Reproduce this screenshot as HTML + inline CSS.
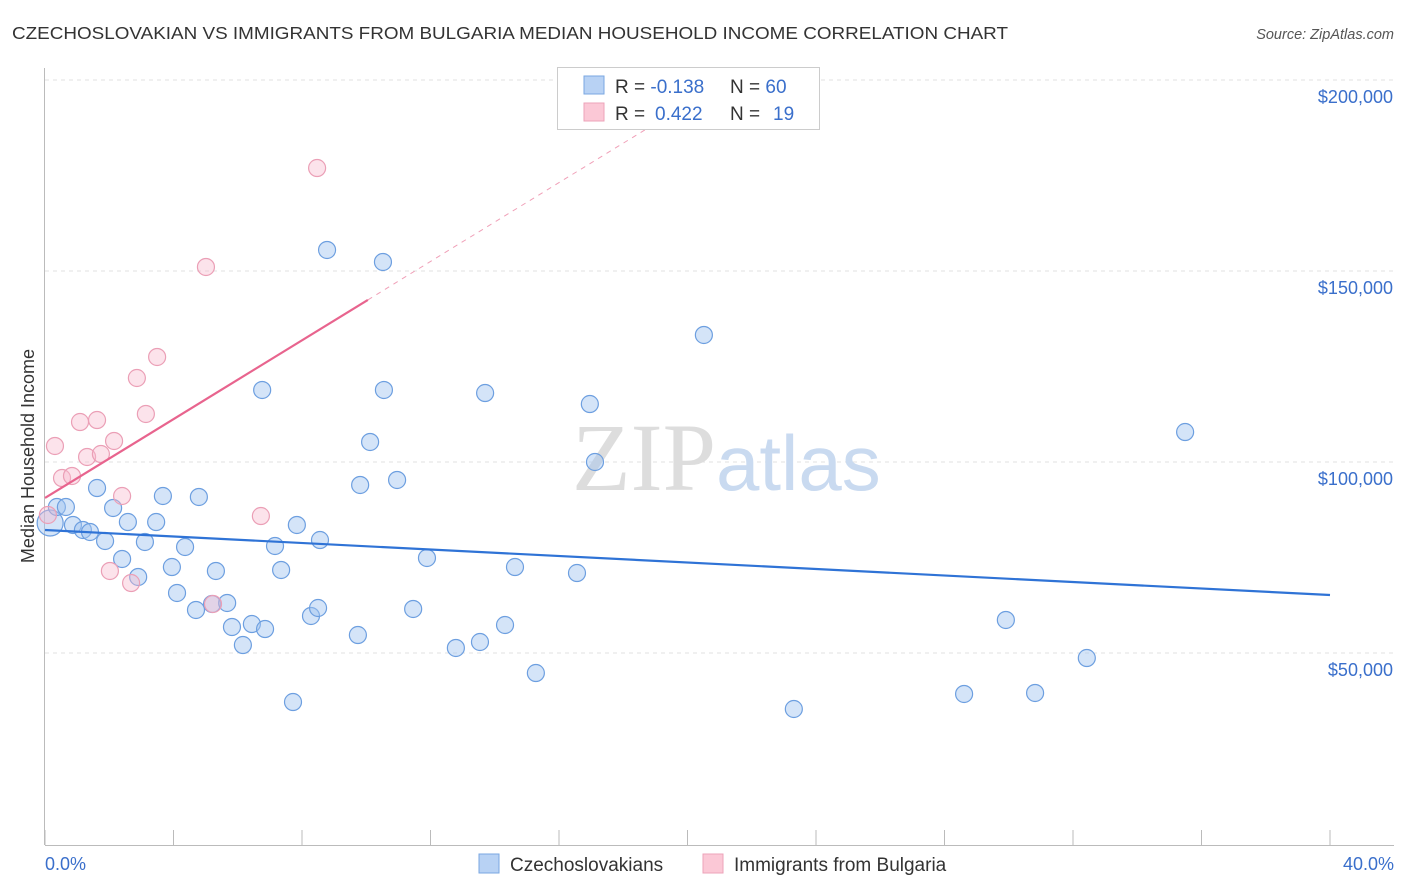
<!DOCTYPE html>
<html><head><meta charset="utf-8"><style>
body{margin:0;background:#fff;font-family:"Liberation Sans",sans-serif;}
svg{display:block}
</style></head><body>
<svg id="c" width="1406" height="892">
<text x="12" y="39" font-size="17.5" fill="#333" textLength="996" lengthAdjust="spacingAndGlyphs">CZECHOSLOVAKIAN VS IMMIGRANTS FROM BULGARIA MEDIAN HOUSEHOLD INCOME CORRELATION CHART</text>
<text x="1394" y="39" font-size="14.5" fill="#555" font-style="italic" text-anchor="end">Source: ZipAtlas.com</text>
<g id="grid"></g>
<text x="716" y="490" font-size="96" font-family="Liberation Serif,serif" fill="#ddd" text-anchor="end">ZIP</text>
<text x="716" y="490" font-size="78" fill="#c9daf0">atlas</text>
<text transform="translate(34,456) rotate(-90)" font-size="18" fill="#333" text-anchor="middle">Median Household Income</text>
<g id="marks"></g>
<g>
<rect x="557.5" y="67.5" width="262" height="62" fill="#fff" stroke="#ccc"/>
<rect x="584" y="76" width="20" height="18" fill="#b8d2f4" stroke="#7aa7e2"/>
<rect x="584" y="103" width="20" height="18" fill="#fbc8d6" stroke="#eca3b9"/>
<text x="615" y="93" font-size="19" fill="#333">R = <tspan fill="#3a6fcb">-0.138</tspan><tspan x="730">N = </tspan><tspan fill="#3a6fcb">60</tspan></text>
<text x="615" y="120" font-size="19" fill="#333">R = <tspan fill="#3a6fcb" x="655">0.422</tspan><tspan x="730">N = </tspan><tspan fill="#3a6fcb" x="773">19</tspan></text>
</g>
<g>
<rect x="479" y="854" width="20" height="19" fill="#b8d2f4" stroke="#7aa7e2"/>
<text x="510" y="871" font-size="19" fill="#333">Czechoslovakians</text>
<rect x="703" y="854" width="20" height="19" fill="#fbc8d6" stroke="#eca3b9"/>
<text x="734" y="871" font-size="19" fill="#333">Immigrants from Bulgaria</text>
</g>
<text x="45" y="870" font-size="18" fill="#3a6fcb">0.0%</text>
<text x="1394" y="870" font-size="18" fill="#3a6fcb" text-anchor="end">40.0%</text>
</svg>
<script>
const yTicks=[50000,100000,150000,200000];
const yTickLabels=["$50,000","$100,000","$150,000","$200,000"];
const blueX=[0.16,0.37,0.65,0.87,1.18,1.40,1.62,1.87,2.12,2.40,2.58,2.90,3.11,3.46,3.67,3.95,4.11,4.36,4.70,4.79,5.20,5.32,5.67,5.82,6.16,6.44,6.76,6.85,7.16,7.35,7.72,7.84,8.28,8.50,8.56,8.78,9.74,9.81,10.12,10.52,10.55,10.96,11.46,11.89,12.79,13.54,13.70,14.32,14.63,15.28,16.56,16.96,17.12,20.51,23.31,28.61,29.91,30.82,32.43,35.49];
const blueY=[84030,88220,88220,83510,82200,81680,93190,79320,87960,74610,84290,69900,79060,84290,91100,72510,65710,77750,61260,90840,62830,71470,63090,56810,52090,57590,118850,56280,78010,71730,37170,83510,59690,61780,79580,155500,54710,93980,105240,152360,118850,95290,61520,74870,51310,52880,118060,57330,72510,44760,70940,115180,100000,133250,35340,39270,58640,39530,48690,107850];
const pinkX=[0.09,0.31,0.53,0.84,1.09,1.31,1.62,1.74,2.02,2.15,2.40,2.68,2.86,3.14,3.49,5.01,5.23,6.72,8.47];
const pinkY=[86130,104190,95810,96340,110470,101310,110990,102090,71470,105500,91100,68320,121990,112570,127490,151050,62830,85860,176960];
const blueTrend=[82200,65180];
const pinkTrend=[90580,5160];
const X=v=>45+v/40*1285;
const Y=v=>80+(200000-v)/50000*191;
const NS="http://www.w3.org/2000/svg";
function mk(t,a,p){const e=document.createElementNS(NS,t);for(const k in a)e.setAttribute(k,a[k]);p.appendChild(e);return e;}
const g=document.getElementById('grid'),m=document.getElementById('marks');
yTicks.forEach((t,i)=>{
 const l=mk('line',{x1:45,x2:1394,y1:Y(t),y2:Y(t),stroke:'#e2e2e2','stroke-dasharray':'4,4'},g);
 
 
 const tx=mk('text',{x:1393,y:Y(t)+23,'font-size':18,fill:'#3a6fcb','text-anchor':'end'},g);
 tx.textContent=yTickLabels[i];
 
 
});
const ax=mk('line',{x1:45,x2:1394,y1:845.5,y2:845.5,stroke:'#bbb'},g);


const ay=mk('line',{x1:44.5,x2:44.5,y1:68,y2:845,stroke:'#bbb'},g);


for(let i=0;i<=10;i++){const t=mk('line',{x1:X(i*4),x2:X(i*4),y1:830,y2:845,stroke:'#bbb'},g);
 
 }
blueX.forEach((x,i)=>{const c=mk('circle',{cx:X(x),cy:Y(blueY[i]),r:i==0?13:8.5,fill:'rgba(160,196,240,0.45)',stroke:'#6d9fe0','stroke-width':1.2},m);
 
 });
pinkX.forEach((x,i)=>{const c=mk('circle',{cx:X(x),cy:Y(pinkY[i]),r:8.5,fill:'rgba(248,185,205,0.4)',stroke:'#eb9fb6','stroke-width':1.2},m);
 
 });
const bt=mk('line',{x1:X(0),y1:Y(blueTrend[0]),x2:X(40),y2:Y(blueTrend[1]),stroke:'#2f73d6','stroke-width':2.2},m);


const pt=mk('line',{x1:X(0),y1:Y(pinkTrend[0]),x2:X(10.05),y2:Y(pinkTrend[0]+pinkTrend[1]*10.05),stroke:'#e8648e','stroke-width':2.2},m);


const pd=mk('line',{x1:X(10.05),y1:Y(pinkTrend[0]+pinkTrend[1]*10.05),x2:X(19.5),y2:Y(pinkTrend[0]+pinkTrend[1]*19.5),stroke:'#f0a0b8','stroke-width':1,'stroke-dasharray':'5,5'},m);


</script>
</body></html>
